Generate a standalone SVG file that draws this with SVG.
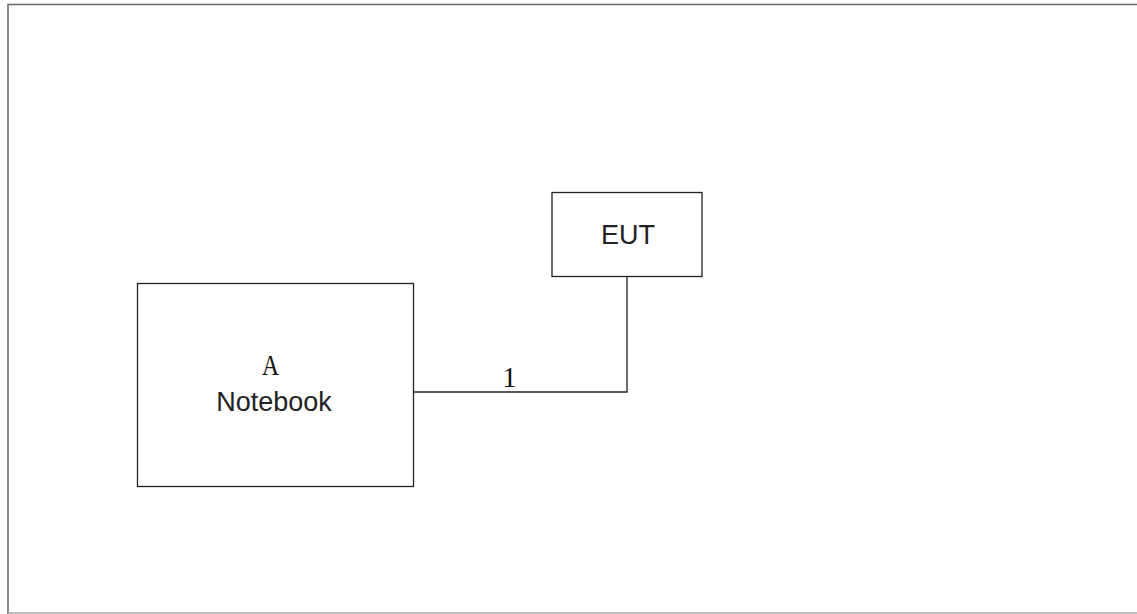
<svg xmlns="http://www.w3.org/2000/svg" width="1137" height="614" viewBox="0 0 1137 614">
<style>
.box{fill:#fff;stroke:#222;stroke-width:1.3}
.sans{font-family:"Liberation Sans",Arial,sans-serif;font-size:27px;fill:#222;text-anchor:middle}
.serif{font-family:"Liberation Serif","Times New Roman",serif;font-size:29px;fill:#111;text-anchor:middle}
.wire{fill:none;stroke:#222;stroke-width:1.3}
</style>
<rect x="0" y="0" width="1137" height="614" fill="#fff"/>
<path d="M8 614 V4.5 H1137" fill="none" stroke="#666" stroke-width="1.5"/>
<path d="M8 613 H1137" fill="none" stroke="#aaa" stroke-width="1.5"/>
<g id="connectors">
<path class="wire" d="M627 277 V392 H414"/>
<text class="serif" x="509.5" y="387">1</text>
</g>
<g id="notebook">
<rect class="box" x="137.5" y="283.5" width="276" height="203"/>
<text class="serif" x="270.5" y="375" textLength="17" lengthAdjust="spacingAndGlyphs">A</text>
<text class="sans" x="274" y="411">Notebook</text>
</g>
<g id="eut">
<rect class="box" x="552" y="192.5" width="150" height="84"/>
<text class="sans" x="628" y="243.5">EUT</text>
</g>
</svg>
